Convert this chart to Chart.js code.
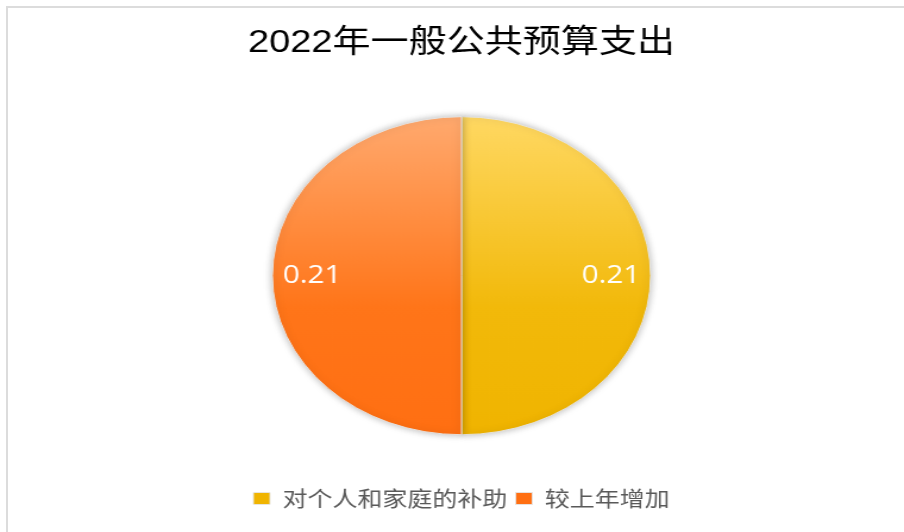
<!DOCTYPE html>
<html>
<head>
<meta charset="utf-8">
<script src="https://cdn.jsdelivr.net/npm/chart.js@4/dist/chart.umd.min.js"></script>
<style>
  html, body { margin: 0; padding: 0; background: #fff; overflow: hidden; }
  #frame {
    position: absolute; left: 6px; top: 6px; width: 1000px; height: 600px;
    border-left: 2px solid #dcdcdc; border-top: 2px solid #dcdcdc;
  }
  #wrap {
    position: absolute; left: 0; top: 0; width: 760px; height: 532px;
    transform: scaleX(1.18947); transform-origin: 0 0;
  }
</style>
</head>
<body>
<div id="frame"></div>
<div id="wrap"><canvas id="c" width="760" height="532"></canvas></div>
<script>
// datos del grafico
const categorias = ['对个人和家庭的补助', '较上年增加'];
const valores = [0.21, 0.21];
const titulo = '2022年一般公共预算支出';

const PIE_R = 159;

// gradientes verticales de cada sector
const stopsAmarillo = [[0, '#FFD862'], [0.6, '#F2B90A'], [1, '#F0B400']];
const stopsNaranja = [[0, '#FFA96E'], [0.6, '#FF7519'], [1, '#FF6F12']];

function gradiente(chart, stops) {
    const area = chart.chartArea;
    if (!area) return stops[stops.length - 1][1];
    const cy = (area.top + area.bottom) / 2;
    const g = chart.ctx.createLinearGradient(0, cy - PIE_R, 0, cy + PIE_R);
    stops.forEach(s => g.addColorStop(s[0], s[1]));
    return g;
}

// sombra suave alrededor del pastel
const sombra = {
    id: 'sombra',
    beforeDatasetsDraw(chart) {
        const ctx = chart.ctx;
        ctx.save();
        ctx.shadowColor = 'rgba(0,0,0,0.28)';
        ctx.shadowBlur = 7;
    },
    afterDatasetsDraw(chart) {
        chart.ctx.restore();
    }
};

// etiquetas de valor dentro de cada sector
const etiquetas = {
    id: 'etiquetas',
    afterDraw(chart) {
        const ctx = chart.ctx;
        const meta = chart.getDatasetMeta(0);
        ctx.save();
        ctx.font = '25px "Open Sans", sans-serif';
        ctx.fillStyle = '#ffffff';
        ctx.textAlign = 'center';
        ctx.textBaseline = 'middle';
        meta.data.forEach((arc, i) => {
            const mid = (arc.startAngle + arc.endAngle) / 2;
            const r = arc.outerRadius * 0.79;
            ctx.fillText(String(valores[i]), arc.x + Math.cos(mid) * r, arc.y + Math.sin(mid) * r);
        });
        ctx.restore();
    }
};

const ctx = document.getElementById('c').getContext('2d');
new Chart(ctx, {
    type: 'pie',
    data: {
        labels: categorias,
        datasets: [{
            data: valores,
            backgroundColor: (c) => gradiente(c.chart, c.dataIndex === 0 ? stopsAmarillo : stopsNaranja),
            borderColor: 'rgba(230,230,230,0.9)',
            borderWidth: 1
        }]
    },
    options: {
        responsive: false,
        devicePixelRatio: 1,
        animation: false,
        radius: PIE_R,
        layout: { padding: { top: 0, bottom: 13, left: 16, right: 0 } },
        plugins: {
            title: {
                display: true,
                text: titulo,
                color: '#000000',
                font: { family: '"Liberation Sans", "Noto Sans CJK SC", sans-serif', size: 32, weight: 'normal' },
                padding: { top: 24, bottom: 8 }
            },
            legend: {
                position: 'bottom',
                labels: {
                    color: '#595959',
                    font: { family: '"Noto Sans CJK SC", sans-serif', size: 21 },
                    boxWidth: 14,
                    boxHeight: 12,
                    padding: 7
                }
            },
            tooltip: { enabled: false }
        }
    },
    plugins: [sombra, etiquetas]
});
</script>
</body>
</html>
